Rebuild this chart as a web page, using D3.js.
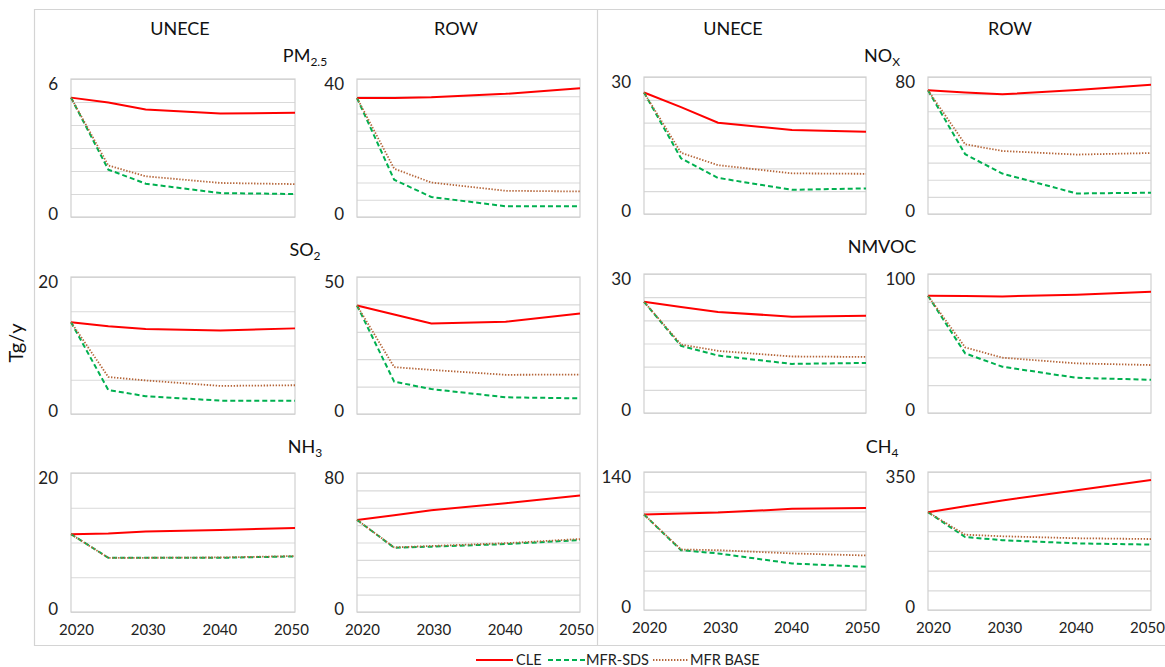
<!DOCTYPE html>
<html>
<head>
<meta charset="utf-8">
<script src="https://cdn.jsdelivr.net/npm/d3@7"></script>
<style>
  html, body { margin: 0; padding: 0; background: #fff; }
  svg { display: block; font-family: Lato, "Open Sans", sans-serif; }
  .tick text { fill: #222; }
</style>
</head>
<body>
<div id="chart"></div>
<script>
// years on the x axis
const years = [2020, 2025, 2030, 2040, 2050];
const yearTicks = [2020, 2030, 2040, 2050];

// series values, Tg/y  (CLE, MFR-SDS, MFR BASE)
const pm25_UNECE_CLE  = [5.19, 4.98, 4.67, 4.50, 4.53];
const pm25_UNECE_SDS  = [5.19, 2.06, 1.45, 1.04, 1.00];
const pm25_UNECE_BASE = [5.19, 2.24, 1.77, 1.48, 1.43];
const pm25_ROW_CLE    = [34.5, 34.5, 34.7, 35.7, 37.3];
const pm25_ROW_SDS    = [34.5, 10.8, 5.8, 3.1, 3.1];
const pm25_ROW_BASE   = [34.5, 14.0, 10.0, 7.6, 7.4];

const nox_UNECE_CLE   = [26.6, 23.4, 20.0, 18.4, 18.0];
const nox_UNECE_SDS   = [26.6, 12.2, 7.9, 5.3, 5.6];
const nox_UNECE_BASE  = [26.6, 13.4, 10.7, 8.9, 8.8];
const nox_ROW_CLE     = [72.2, 71.0, 69.9, 72.4, 75.5];
const nox_ROW_SDS     = [72.2, 34.9, 23.6, 12.0, 12.4];
const nox_ROW_BASE    = [72.2, 40.7, 36.8, 34.7, 35.6];

const so2_UNECE_CLE   = [13.4, 12.8, 12.4, 12.2, 12.5];
const so2_UNECE_SDS   = [13.4, 3.5, 2.6, 1.95, 1.95];
const so2_UNECE_BASE  = [13.4, 5.4, 4.9, 4.1, 4.2];
const so2_ROW_CLE     = [39.6, 36.3, 33.0, 33.7, 36.7];
const so2_ROW_SDS     = [39.6, 11.8, 9.1, 6.1, 5.7];
const so2_ROW_BASE    = [39.6, 17.1, 16.1, 14.3, 14.4];

const nmvoc_UNECE_CLE  = [24.0, 22.9, 21.8, 20.8, 21.0];
const nmvoc_UNECE_SDS  = [24.0, 14.5, 12.4, 10.6, 10.8];
const nmvoc_UNECE_BASE = [24.0, 14.8, 13.4, 12.2, 12.1];
const nmvoc_ROW_CLE    = [84.3, 84.2, 83.9, 85.0, 87.2];
const nmvoc_ROW_SDS    = [84.3, 42.9, 33.3, 25.3, 23.9];
const nmvoc_ROW_BASE   = [84.3, 47.2, 39.8, 35.7, 34.5];

const nh3_UNECE_CLE   = [11.2, 11.3, 11.6, 11.8, 12.1];
const nh3_UNECE_SDS   = [11.2, 7.8, 7.8, 7.8, 8.0];
const nh3_UNECE_BASE  = [11.2, 7.8, 7.8, 7.85, 8.05];
const nh3_ROW_CLE     = [53.0, 55.7, 58.6, 62.6, 67.0];
const nh3_ROW_SDS     = [53.0, 37.0, 37.6, 39.1, 41.4];
const nh3_ROW_BASE    = [53.0, 37.2, 38.0, 39.6, 42.0];

const ch4_UNECE_CLE   = [96.8, 97.8, 98.8, 102.6, 103.6];
const ch4_UNECE_SDS   = [96.8, 60.7, 57.4, 47.2, 43.8];
const ch4_UNECE_BASE  = [96.8, 61.4, 60.7, 57.4, 55.3];
const ch4_ROW_CLE     = [248, 263, 278, 304, 330];
const ch4_ROW_SDS     = [248, 185, 177, 169, 166];
const ch4_ROW_BASE    = [248, 191, 187, 182, 180];

// axis maxima and grid steps per panel
const axisMax  = { pm25: [6, 40], nox: [30, 80], so2: [20, 50], nmvoc: [30, 100], nh3: [20, 80], ch4: [140, 350] };
const axisStep = { pm25: [1, 5],  nox: [5, 10],  so2: [5, 10],  nmvoc: [5, 20],   nh3: [5, 10], ch4: [20, 50] };

const regions = ["UNECE", "ROW"];
const scenarios = ["CLE", "MFR-SDS", "MFR BASE"];

const W = 1165, H = 667;
const svg = d3.select("#chart").append("svg").attr("width", W).attr("height", H);

// panel geometry (two big blocks side by side)
const blocks = [
  { cols: [[71, 295], [357, 580]], rows: [[79, 217], [277, 414], [473, 612]], titleX: 305, headX: [180, 456],
    pollutants: [
      { key: "pm25", name: "PM", sub: "2.5", base: 62,
        data: [[pm25_UNECE_CLE, pm25_UNECE_SDS, pm25_UNECE_BASE], [pm25_ROW_CLE, pm25_ROW_SDS, pm25_ROW_BASE]] },
      { key: "so2", name: "SO", sub: "2", base: 256,
        data: [[so2_UNECE_CLE, so2_UNECE_SDS, so2_UNECE_BASE], [so2_ROW_CLE, so2_ROW_SDS, so2_ROW_BASE]] },
      { key: "nh3", name: "NH", sub: "3", base: 453,
        data: [[nh3_UNECE_CLE, nh3_UNECE_SDS, nh3_UNECE_BASE], [nh3_ROW_CLE, nh3_ROW_SDS, nh3_ROW_BASE]] }
    ] },
  { cols: [[644, 866], [928, 1151]], rows: [[77, 214], [274, 413], [472, 610]], titleX: 882, headX: [733, 1010],
    pollutants: [
      { key: "nox", name: "NO", sub: "X", base: 62,
        data: [[nox_UNECE_CLE, nox_UNECE_SDS, nox_UNECE_BASE], [nox_ROW_CLE, nox_ROW_SDS, nox_ROW_BASE]] },
      { key: "nmvoc", name: "NMVOC", sub: "", base: 253,
        data: [[nmvoc_UNECE_CLE, nmvoc_UNECE_SDS, nmvoc_UNECE_BASE], [nmvoc_ROW_CLE, nmvoc_ROW_SDS, nmvoc_ROW_BASE]] },
      { key: "ch4", name: "CH", sub: "4", base: 453,
        data: [[ch4_UNECE_CLE, ch4_UNECE_SDS, ch4_UNECE_BASE], [ch4_ROW_CLE, ch4_ROW_SDS, ch4_ROW_BASE]] }
    ] }
];

const styles = [
  { color: "#ff0000", width: 2, dash: null },
  { color: "#00b050", width: 2, dash: "5,3" },
  { color: "#b5663a", width: 1.8, dash: "1.4,1.6" }
];

// outer frames
const frame = svg.append("g").attr("fill", "none").attr("stroke", "#d4d4d4").attr("stroke-width", 1.2);
frame.append("line").attr("x1", 34).attr("x2", W).attr("y1", 9.5).attr("y2", 9.5);
frame.append("line").attr("x1", 34).attr("x2", W).attr("y1", 645.5).attr("y2", 645.5);
frame.append("line").attr("x1", 34.5).attr("x2", 34.5).attr("y1", 9).attr("y2", 646);
frame.append("line").attr("x1", 597.5).attr("x2", 597.5).attr("y1", 9).attr("y2", 646);

blocks.forEach(b => {
  // column headers
  regions.forEach((r, ci) => {
    svg.append("text").attr("x", b.headX[ci]).attr("y", 35)
      .attr("text-anchor", "middle").attr("font-size", 18).attr("fill", "#111").text(r);
  });

  b.pollutants.forEach((p, ri) => {
    const [y0, y1] = b.rows[ri];
    // pollutant title with subscript
    const t = svg.append("text").attr("x", b.titleX).attr("y", p.base)
      .attr("text-anchor", "middle").attr("font-size", 18).attr("fill", "#111");
    t.append("tspan").text(p.name);
    if (p.sub) t.append("tspan").attr("font-size", 12).attr("dy", 4).text(p.sub);

    regions.forEach((r, ci) => {
      const [x0, x1] = b.cols[ci];
      const max = axisMax[p.key][ci], step = axisStep[p.key][ci];
      const x = d3.scaleLinear().domain([2020, 2050]).range([x0, x1]);
      // tick labels sit slightly inside the plot ends, as in the original
      const xLab = d3.scaleLinear().domain([2020, 2050]).range([x0 + 5, x1 - 4]);
      const y = d3.scaleLinear().domain([0, max]).range([y1, y0]);
      const g = svg.append("g");

      // gridlines
      g.append("g")
        .attr("transform", `translate(${x0},0)`)
        .call(d3.axisLeft(y).tickValues(d3.range(0, max + step / 2, step)).tickSize(-(x1 - x0)).tickFormat(""))
        .call(a => a.select(".domain").remove())
        .selectAll("line").attr("stroke", "#d9d9d9").attr("stroke-width", 1.2);

      // plot border
      g.append("rect").attr("x", x0).attr("y", y0).attr("width", x1 - x0).attr("height", y1 - y0)
        .attr("fill", "none").attr("stroke", "#d0d0d0").attr("stroke-width", 1.2);

      // y labels: only 0 and max
      g.append("g")
        .attr("transform", `translate(${x0},0)`)
        .call(d3.axisLeft(y).tickValues([0, max]).tickFormat(d3.format("d")).tickSize(0).tickPadding(13))
        .call(a => a.select(".domain").remove())
        .selectAll("text")
          .attr("font-size", 17).attr("font-family", "Lato, 'Open Sans', sans-serif")
          .attr("dy", d => d === 0 ? "0.12em" : "0.62em");

      // x labels on the bottom row
      if (ri === 2) {
        g.append("g")
          .attr("transform", `translate(0,${y1})`)
          .call(d3.axisBottom(xLab).tickValues(yearTicks).tickFormat(d3.format("d")).tickSize(0).tickPadding(12))
          .call(a => a.select(".domain").remove())
          .selectAll("text")
            .attr("font-size", 15).attr("font-family", "Lato, 'Open Sans', sans-serif");
      }

      const line = d3.line().x((d, i) => x(years[i])).y(d => y(d));
      p.data[ci].forEach((vals, si) => {
        const s = styles[si];
        g.append("path").datum(vals)
          .attr("d", line)
          .attr("fill", "none")
          .attr("stroke", s.color)
          .attr("stroke-width", s.width)
          .attr("stroke-dasharray", s.dash);
      });
    });
  });
});

// y axis title
svg.append("text").attr("transform", "translate(23,343) rotate(-90)")
  .attr("text-anchor", "middle").attr("font-size", 20).attr("fill", "#111").text("Tg/y");

// legend
const legendItems = [
  { x1: 476, x2: 513, tx: 516 },
  { x1: 548, x2: 585, tx: 586 },
  { x1: 653, x2: 688, tx: 690 }
];
const legend = svg.append("g");
legendItems.forEach((it, i) => {
  const s = styles[i];
  legend.append("line").attr("x1", it.x1).attr("x2", it.x2).attr("y1", 660).attr("y2", 660)
    .attr("stroke", s.color).attr("stroke-width", s.width).attr("stroke-dasharray", s.dash);
  legend.append("text").attr("x", it.tx).attr("y", 665).attr("font-size", 14.5).attr("fill", "#222")
    .text(scenarios[i]);
});
</script>
</body>
</html>
